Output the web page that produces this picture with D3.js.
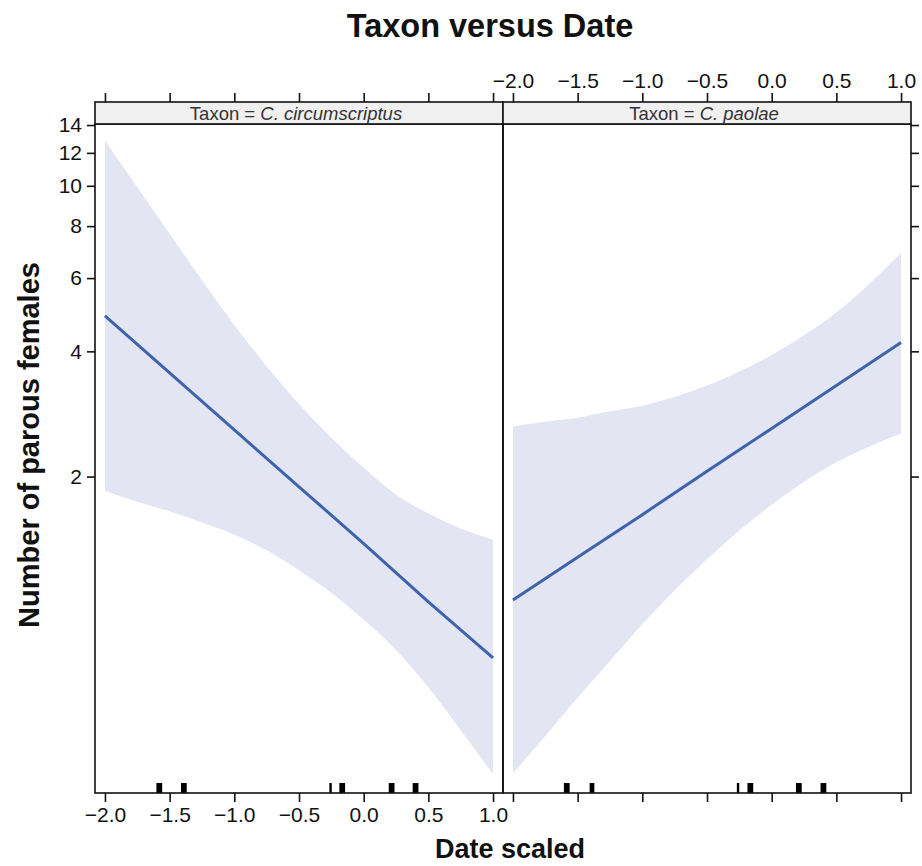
<!DOCTYPE html>
<html><head><meta charset="utf-8">
<script src="https://cdn.jsdelivr.net/npm/d3@7"></script>
<style>body{margin:0;background:#fff}svg{display:block}text{font-family:"Liberation Sans",Arial,sans-serif}</style>
</head><body><svg id="c" width="922" height="866"></svg>
<script>
const taxa = ["C. circumscriptus", "C. paolae"];
const gridX = [-2.0,-1.75,-1.5,-1.25,-1.0,-0.75,-0.5,-0.25,0.0,0.25,0.5,0.75,1.0];
const fitX = [-2.0,-1.5,-1.0,-0.5,0.0,0.5,1.0];
const fitCirc = [4.87,3.55,2.59,1.89,1.38,1.00,0.733];
const upperCirc = [12.85,9.92,7.67,5.93,4.63,3.68,2.99,2.48,2.10,1.81,1.63,1.50,1.41];
const lowerCirc = [1.85,1.74,1.65,1.55,1.45,1.33,1.19,1.05,0.906,0.766,0.623,0.491,0.385];
const fitPao = [1.01,1.28,1.62,2.06,2.61,3.31,4.2];
const upperPao = [2.64,2.71,2.77,2.87,2.96,3.11,3.31,3.58,3.92,4.37,4.96,5.8,6.9];
const lowerPao = [0.387,0.476,0.589,0.721,0.883,1.066,1.266,1.483,1.711,1.944,2.164,2.36,2.54];
const rugCirc = [-1.593,-1.58,-1.567,-1.403,-1.39,-1.377,-0.256,-0.179,-0.166,-0.153,0.203,0.216,0.229,0.388,0.401,0.414];
const rugPao = [-1.597,-1.584,-1.571,-1.398,-1.38,-0.26,-0.178,-0.165,-0.152,0.197,0.21,0.223,0.387,0.40,0.413];
const xTicks = [-2.0,-1.5,-1.0,-0.5,0.0,0.5,1.0];
const yTicks = [2,4,6,8,10,12,14];
const title = "Taxon versus Date";
const xLabel = "Date scaled";
const yLabel = "Number of parous females";

const panels = [
  {taxon: taxa[0], fit: fitCirc, upper: upperCirc, lower: lowerCirc, rug: rugCirc},
  {taxon: taxa[1], fit: fitPao, upper: upperPao, lower: lowerPao, rug: rugPao}
];

const svg = d3.select("#c");
const pTop = 124, pBottom = 793, stripTop = 102;
const panelX = [[95,503],[503,911]];
const y = d3.scaleLog().domain([0.347, 14.08]).range([pBottom, pTop]);
const fmt = d3.format(".1f");
const fmtX = v => fmt(v).replace("-", "\u2212");
const FONT = '"Liberation Sans",Arial,sans-serif';

panels.forEach((p, i) => {
  const [x0, x1] = panelX[i];
  const x = d3.scaleLinear().domain([-2.077, 1.077]).range([x0, x1]);
  const g = svg.append("g");
  const area = d3.area().x(d => x(d[0])).y0(d => y(d[2])).y1(d => y(d[1])).curve(d3.curveMonotoneX);
  g.append("path").datum(gridX.map((v, k) => [v, p.upper[k], p.lower[k]]))
    .attr("d", area).attr("fill", "#e4e5f2");
  const line = d3.line().x(d => x(d[0])).y(d => y(d[1]));
  g.append("path").datum(fitX.map((v, k) => [v, p.fit[k]]))
    .attr("d", line).attr("fill", "none").attr("stroke", "#3d63ad").attr("stroke-width", 3);
  g.selectAll(".rug").data(p.rug).enter().append("line")
    .attr("x1", d => x(d)).attr("x2", d => x(d)).attr("y1", pBottom - 10).attr("y2", pBottom)
    .attr("stroke", "#000").attr("stroke-width", 2.4);
  g.append("rect").attr("x", x0).attr("y", pTop).attr("width", x1 - x0).attr("height", pBottom - pTop)
    .attr("fill", "none").attr("stroke", "#111").attr("stroke-width", 1.6);
  g.append("rect").attr("x", x0).attr("y", stripTop).attr("width", x1 - x0).attr("height", pTop - stripTop)
    .attr("fill", "#f0f0f0").attr("stroke", "#111").attr("stroke-width", 1.6);
  const st = g.append("text").attr("x", (x0 + x1) / 2 - 3).attr("y", 119.5).attr("text-anchor", "middle")
    .attr("font-size", 18.5).attr("fill", "#333");
  st.append("tspan").text("Taxon = ");
  st.append("tspan").attr("font-style", "italic").text(p.taxon);
  const axB = d3.axisBottom(x).tickValues(xTicks).tickSize(9).tickPadding(5).tickFormat(i === 0 ? fmtX : () => "");
  const gb = g.append("g").attr("transform", `translate(0,${pBottom})`).call(axB);
  const axT = d3.axisTop(x).tickValues(xTicks).tickSize(9).tickPadding(5).tickFormat(i === 1 ? fmtX : () => "");
  const gt = g.append("g").attr("transform", `translate(0,${stripTop})`).call(axT);
  [gb, gt].forEach(a => {
    a.select(".domain").remove();
    a.selectAll(".tick line").attr("stroke", "#111").attr("stroke-width", 1.6);
    a.selectAll(".tick text").attr("font-size", 21).attr("fill", "#111").style("font-family", FONT);
  });
  if (i === 0) {
    const gy = g.append("g").attr("transform", `translate(${x0},0)`)
      .call(d3.axisLeft(y).tickValues(yTicks).tickSize(8).tickPadding(5).tickFormat(d3.format("d")));
    gy.select(".domain").remove();
    gy.selectAll(".tick line").attr("stroke", "#111").attr("stroke-width", 1.6);
    gy.selectAll(".tick text").attr("font-size", 21).attr("fill", "#111").style("font-family", FONT);
  } else {
    const gy = g.append("g").attr("transform", `translate(${x1},0)`)
      .call(d3.axisRight(y).tickValues(yTicks).tickSize(8).tickFormat(() => ""));
    gy.select(".domain").remove();
    gy.selectAll(".tick line").attr("stroke", "#111").attr("stroke-width", 1.6);
  }
});

svg.append("text").attr("x", 490).attr("y", 37).attr("text-anchor", "middle")
  .attr("font-size", 32.5).attr("font-weight", "bold").attr("fill", "#111").text(title);
svg.append("text").attr("x", 510).attr("y", 858).attr("text-anchor", "middle")
  .attr("font-size", 27).attr("font-weight", "bold").attr("fill", "#111").text(xLabel);
svg.append("text").attr("transform", "translate(39,445) rotate(-90)").attr("text-anchor", "middle")
  .attr("font-size", 29).attr("font-weight", "bold").attr("fill", "#111").text(yLabel);
</script></body></html>
